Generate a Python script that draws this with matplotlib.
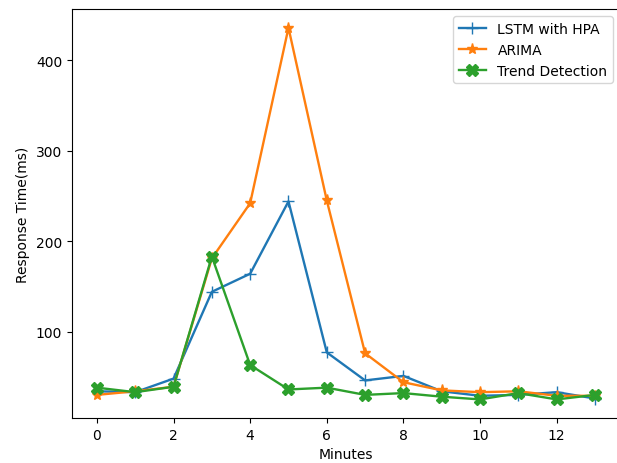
import matplotlib
matplotlib.use('Agg')
import matplotlib.pyplot as plt

minutes = list(range(14))
lstm_hpa = [34, 33, 48, 144, 164, 244, 77, 46, 51, 34, 29, 30, 33, 26]
arima = [30, 34, 39, 181, 242, 436, 245, 76, 44, 35, 33, 34, 29, 29]
trend = [38, 33, 39, 183, 63, 36, 38, 30, 32, 28, 25, 32, 25, 30]

fig = plt.figure(figsize=(6.17, 4.64), dpi=100)
# the reference is cropped so the right spine falls just off the image
ax = fig.add_axes([0.1167, 0.097, 0.888, 0.881])
ax.spines['right'].set_visible(False)

ax.plot(minutes, lstm_hpa, marker='+', markersize=8, linewidth=1.7, label='LSTM with HPA')
ax.plot(minutes, arima, marker='*', markersize=8, linewidth=1.7, label='ARIMA')
ax.plot(minutes, trend, marker='X', markersize=8, linewidth=1.7, label='Trend Detection')

ax.set_xlabel('Minutes')
ax.set_ylabel('Response Time(ms)')
ax.legend(loc='upper right')

fig.savefig('out.png', dpi=100)
